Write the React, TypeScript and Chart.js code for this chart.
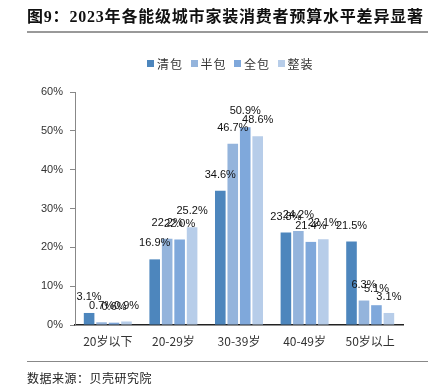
import React, { useEffect, useRef } from "react";
import { Chart, registerables } from "chart.js";

Chart.register(...registerables);

const categories = ["20岁以下", "20-29岁", "30-39岁", "40-49岁", "50岁以上"];
const seriesNames = ["清包", "半包", "全包", "整装"];
const qingbao = [3.1, 16.9, 34.6, 23.8, 21.5];
const banbao = [0.7, 22.2, 46.7, 24.2, 6.3];
const quanbao = [0.6, 22.0, 50.9, 21.4, 5.1];
const zhengzhuang = [0.9, 25.2, 48.6, 22.1, 3.1];
const seriesColors = ["#4d86bd", "#94b4dc", "#7fa8db", "#b7cde9"];
const yTicks = [0, 10, 20, 30, 40, 50, 60];

const labelPlugin = {
  id: "barLabels",
  afterDatasetsDraw(chart: any) {
    const ctx = chart.ctx;
    ctx.save();
    ctx.font = "11px 'Liberation Sans', Arial, sans-serif";
    ctx.fillStyle = "#111";
    ctx.textAlign = "center";
    ctx.textBaseline = "middle";
    chart.data.datasets.forEach((ds: any, i: number) => {
      const meta = chart.getDatasetMeta(i);
      meta.data.forEach((el: any, j: number) => {
        ctx.fillText(ds.data[j].toFixed(1) + "%", el.x, el.y - 16);
      });
    });
    ctx.restore();
  },
};

export default function App() {
  const ref = useRef<HTMLCanvasElement>(null);
  useEffect(() => {
    document.body.style.margin = "0";
    const data = [qingbao, banbao, quanbao, zhengzhuang];
    const chart = new Chart(ref.current!, {
      type: "bar",
      data: {
        labels: categories,
        datasets: seriesNames.map((n, i) => ({
          label: n,
          data: data[i],
          backgroundColor: seriesColors[i],
          barPercentage: 0.85,
          categoryPercentage: 0.76,
        })),
      },
      options: {
        animation: false,
        responsive: false,
        maintainAspectRatio: false,
        layout: { padding: { left: 25, right: 32, top: 92, bottom: 0 } },
        plugins: { legend: { display: false }, tooltip: { enabled: false } },
        scales: {
          x: {
            grid: { display: false, drawTicks: false },
            border: { display: true, color: "#222", width: 1.5 },
            ticks: {
              padding: 9,
              color: "#333",
              font: { size: 12, family: "'Noto Sans CJK SC', 'Liberation Sans', sans-serif" },
            },
            afterFit: (s: any) => { s.height = 60; },
          },
          y: {
            min: 0,
            max: 60,
            afterBuildTicks: (s: any) => { s.ticks = yTicks.map((v) => ({ value: v })); },
            grid: { drawOnChartArea: false, drawTicks: true, tickLength: 5, color: "#888" },
            border: { display: true, color: "#888", width: 1 },
            ticks: {
              padding: 7,
              color: "#333",
              font: { size: 11, family: "'Liberation Sans', Arial, sans-serif" },
              callback: (v: any) => v + "%",
            },
            afterFit: (s: any) => { s.width = 50; },
          },
        },
      },
      plugins: [labelPlugin],
    });
    return () => chart.destroy();
  }, []);

  return (
    <div style={{ position: "relative", width: 435, height: 385, background: "#fff" }}>
      <canvas ref={ref} width={435} height={385} style={{ position: "absolute", left: 0, top: 0 }} />
      <div
        style={{
          position: "absolute", left: 27, top: 6, width: 401, height: 25,
          borderBottom: "2px solid #999", fontWeight: "bold", fontSize: 16,
          fontFamily: "'Liberation Serif', 'Noto Sans CJK SC', serif", color: "#111",
          whiteSpace: "nowrap", lineHeight: "22px", letterSpacing: "0.8px",
        }}
      >
        图9：2023年各能级城市家装消费者预算水平差异显著
      </div>
      <div style={{ position: "absolute", left: 147, top: 55, display: "flex", fontSize: 12, color: "#333", fontFamily: "'Noto Sans CJK SC', sans-serif" }}>
        {seriesNames.map((n, i) => (
          <div key={n} style={{ display: "flex", alignItems: "center", width: 43.5 }}>
            <span style={{ width: 7, height: 7, background: seriesColors[i], marginRight: 3, display: "inline-block" }} />
            <span style={{ letterSpacing: "1px" }}>{n}</span>
          </div>
        ))}
      </div>
      <div style={{ position: "absolute", left: 27, top: 361, width: 401, borderTop: "1px solid #888" }} />
      <div style={{ position: "absolute", left: 27, top: 369, fontSize: 12, color: "#222", fontFamily: "'Noto Sans CJK SC', sans-serif", whiteSpace: "nowrap", letterSpacing: "0.5px" }}>
        数据来源：贝壳研究院
      </div>
    </div>
  );
}
